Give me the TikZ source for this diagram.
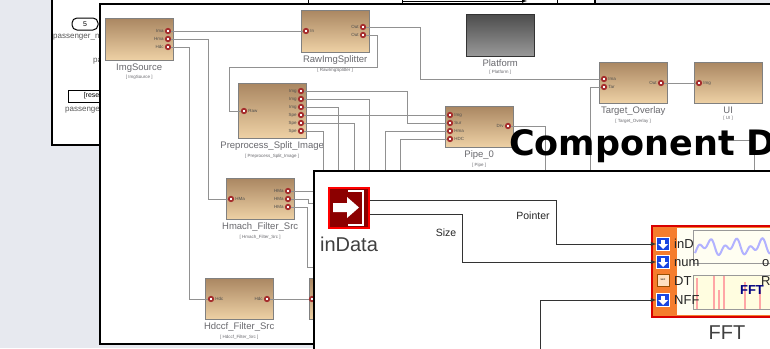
\documentclass[tikz,border=0pt]{standalone}
\usepackage{fontspec}
\setmainfont{Liberation Sans}
\newfontfamily\comicfont{DejaVu Sans}
\usetikzlibrary{positioning}
\definecolor{deskgrey}{RGB}{231, 233, 239}
\definecolor{boxtop}{RGB}{170, 135, 98}
\definecolor{boxbottom}{RGB}{238, 209, 165}
\definecolor{portred}{RGB}{165, 45, 45}
\definecolor{wiregrey}{RGB}{145, 145, 145}
\definecolor{labelgrey}{RGB}{105, 105, 110}
\definecolor{fftorange}{RGB}{245, 125, 45}
\definecolor{portblue}{RGB}{25, 70, 225}

\tikzset{
	window/.style={draw=black, fill=white, line width=1.7pt},
	compbox/.style={draw=black!50, top color=boxtop, bottom color=boxbottom, minimum width=68pt, inner sep=0pt, anchor=north west},
	darkbox/.style={draw=black!80, top color=black!70, bottom color=black!40, minimum width=68pt, inner sep=0pt, anchor=north west},
	complabel/.style={color=labelgrey, font=\fontsize{9.5}{10}\selectfont, inner sep=0pt},
	compsub/.style={color=labelgrey, font=\fontsize{4.5}{5}\selectfont, inner sep=0pt},
	portdot/.style={circle, draw=portred, fill=white, line width=1.7pt, minimum size=4.5pt, inner sep=0pt},
	portlabel/.style={color=black!70, font=\fontsize{4.5}{5}\selectfont, inner sep=1pt},
	wire/.style={draw=wiregrey, line width=1pt},
	signal/.style={draw=black!80, line width=0.9pt},
	backtext/.style={color=black!65, font=\fontsize{8}{9}\selectfont, inner sep=0pt},
	fftport/.style={draw=white, fill=portblue, minimum size=13pt, inner sep=0pt},
	fftlabel/.style={color=black!85, font=\fontsize{13}{14}\selectfont, inner sep=0pt, anchor=west},
	wirename/.style={color=black!85, font=\fontsize{10.5}{12}\selectfont, inner sep=0pt}
}

\begin{document}
\begin{tikzpicture}[x=1pt, y=-1pt]
		
		% --- HELPERS FOR BLOCKS AND PORTS ---
		\newcommand{\compblock}[7]{ % #1:name, #2:style, #3:x, #4:y, #5:height, #6:label, #7:type
			\node[#2, minimum height=#5] (#1) at (#3, #4) {};
			\node[complabel, below=3pt of #1] (#1Label) {#6};
			\node[compsub, below=3pt of #1Label] (#1Sub) {[ #7 ]};
		}
		\newcommand{\inport}[4]{ % #1:name, #2:x, #3:y, #4:label
			\node[portdot, label={[portlabel]right:#4}] (#1) at (#2, #3) {};
		}
		\newcommand{\outport}[4]{ % #1:name, #2:x, #3:y, #4:label
			\node[portdot, label={[portlabel]left:#4}] (#1) at (#2, #3) {};
		}
		
		\useasboundingbox (0,0) rectangle (770,348);
		\clip (0,0) rectangle (770,348);
		\fill[deskgrey] (0,0) rectangle (770,348);
		
		% --- BACK WINDOW ---
		\draw[window] (52,-5) rectangle (595,145);
		\node[draw=black, line width=1pt, rounded corners=5pt, minimum width=26pt, minimum height=12pt, inner sep=0pt, font=\fontsize{7}{8}\selectfont] (passengerNum) at (85,24) {5};
		\node[backtext, anchor=west] (passengerNumLabel) at (53,37) {passenger\_num};
		\node[backtext, anchor=west] (passengerMid) at (93,61) {passenger};
		\node[draw=black, line width=1pt, minimum width=50pt, minimum height=12pt, inner sep=1pt, anchor=west, font=\fontsize{7}{8}\selectfont] (resetBox) at (68,96) {[reset]};
		\node[backtext, anchor=west] (resetLabel) at (65,110) {passenger\_reset};
		\draw[line width=1pt] (308,-5) rectangle (402,3);
		\draw[line width=0.7pt, -latex] (402,1) -- (527,1);
		\draw[line width=0.7pt] (557,-5) -- (557,3) -- (595,3);
		
		% --- COMPONENT WINDOW ---
		\draw[window] (100,4) rectangle (790,344);
		
		\compblock{imgSource}{compbox}{105}{18}{42pt}{ImgSource}{ImgSource}
		\compblock{splitter}{compbox}{301}{10}{42pt}{RawImgSplitter}{RawImgSplitter}
		\compblock{platform}{darkbox}{466}{14}{42pt}{Platform}{Platform}
		\compblock{preprocess}{compbox}{238}{83}{55pt}{Preprocess\_Split\_Image}{Preprocess\_Split\_Image}
		\compblock{pipe}{compbox}{445}{106}{41pt}{Pipe\_0}{Pipe}
		\compblock{overlay}{compbox}{599}{62}{41pt}{Target\_Overlay}{Target\_Overlay}
		\compblock{ui}{compbox}{694}{62}{41pt}{UI}{UI}
		\compblock{hmach}{compbox}{226}{178}{41pt}{Hmach\_Filter\_Src}{Hmach\_Filter\_Src}
		\compblock{hdccf}{compbox}{205}{278}{41pt}{Hdccf\_Filter\_Src}{Hdccf\_Filter\_Src}
		\node[compbox, minimum height=41pt] (hiddenBox) at (309,278) {};
		
		% --- PORTS ---
		\outport{srcIma}{168}{31}{Ima}
		\outport{srcHma}{168}{39}{Hma}
		\outport{srcHdc}{168}{47}{Hdc}
		\inport{splitIn}{306}{31}{In}
		\outport{splitOutA}{363}{27}{Out}
		\outport{splitOutB}{363}{35}{Out}
		\inport{preRaw}{244}{111}{Raw}
		\outport{preA}{301}{91}{Img}
		\outport{preB}{301}{99}{Img}
		\outport{preC}{301}{107}{Img}
		\outport{preD}{301}{115}{Spe}
		\outport{preE}{301}{123}{Spe}
		\outport{preF}{301}{131}{Spe}
		\inport{pipeImg}{450}{115}{Img}
		\inport{pipeSur}{450}{123}{Sur}
		\inport{pipeHma}{450}{131}{Hma}
		\inport{pipeHdc}{450}{139}{HDC}
		\outport{pipeDrv}{508}{126}{Drv}
		\inport{overlayIma}{604}{79}{Ima}
		\inport{overlayTar}{604}{87}{Tar}
		\outport{overlayOut}{661}{83}{Out}
		\inport{uiImg}{699}{83}{Img}
		\inport{hmachIn}{231}{199}{HMa}
		\outport{hmachA}{288}{191}{HMa}
		\outport{hmachB}{288}{199}{HMa}
		\outport{hmachC}{288}{207}{HMa}
		\inport{hdccfIn}{211}{299}{Hdc}
		\outport{hdccfOut}{267}{299}{Hdc}
		\node[portdot] (hiddenIn) at (312,299) {};
		
		% --- WIRES (FREE ENDS RUN UNDER THE FRONT WINDOW) ---
		\coordinate (endB) at (369,175);
		\coordinate (endC) at (338,175);
		\coordinate (endE) at (354,175);
		\coordinate (endF) at (323,175);
		\coordinate (endHma) at (385,175);
		\coordinate (endHdc) at (400,175);
		\coordinate (endDrv) at (545,175);
		\coordinate (endTar) at (590,175);
		\coordinate (endUi) at (754,175);
		\coordinate (startUi) at (722,140);
		\coordinate (endHmachA) at (320,191);
		\coordinate (endHmachB) at (320,203);
		\coordinate (endHmachC) at (320,267);
		
		\draw[wire] (srcIma) -- (splitIn);
		\draw[wire] (srcHma) -- ++(40,0) |- (hmachIn);
		\draw[wire] (srcHdc) -- ++(21.5,0) |- (hdccfIn);
		\draw[wire] (splitOutA) -- ++(57.5,0) |- (overlayIma);
		\draw[wire] (splitOutB) -- ++(14,0) |- (229,67) |- (preRaw);
		\draw[wire] (preA) -- ++(106,0) |- (pipeSur);
		\draw[wire] (preB) -| (endB);
		\draw[wire] (preC) -| (endC);
		\draw[wire] (preD) -- (pipeImg);
		\draw[wire] (preE) -| (endE);
		\draw[wire] (preF) -| (endF);
		\draw[wire] (pipeHma) -| (endHma);
		\draw[wire] (pipeHdc) -| (endHdc);
		\draw[wire] (pipeDrv) -| (endDrv);
		\draw[wire] (overlayTar) -| (endTar);
		\draw[wire] (overlayOut) -- (uiImg);
		\draw[wire] (startUi) -| (endUi);
		\draw[wire] (hmachA) -- (endHmachA);
		\draw[wire] (hmachB) -- ++(20,0) |- (endHmachB);
		\draw[wire] (hmachC) -- ++(19,0) |- (endHmachC);
		\draw[wire] (hdccfOut) -- (hiddenIn);
		
		% --- TITLE ---
		\node[anchor=base west, inner sep=0pt, font=\comicfont\bfseries\fontsize{35}{38}\selectfont] (title) at (509,155) {Component D};
		
		% --- FRONT WINDOW ---
		\draw[window] (314,171) rectangle (790,360);
		
		\node[draw=red, fill=red!55!black, line width=1.8pt, minimum size=40pt, inner sep=0pt] (inData) at (349,208) {};
		\draw[white, line width=2pt] (348,191) -- (363,191) -- (363,225) -- (348,225);
		\fill[white] (333,203) -- (347,203) -- (347,197) -- (359,207.5) -- (347,218) -- (347,212) -- (333,212) -- cycle;
		\node[inner sep=0pt, color=black!75, font=\fontsize{20}{22}\selectfont] (inDataLabel) at (349,244) {inData};
		
		% --- FFT BLOCK ---
		\fill[fftorange, draw=red!85!black, line width=1.5pt] (652,226) rectangle (790,317);
		\fill[white!95!yellow] (677,228) rectangle (790,315);
		\fill[yellow!12] (693,275) rectangle (790,309);
		\draw[black!40, line width=0.4pt] (693,230) rectangle (790,263);
		\draw[black!40, line width=0.4pt] (693,275) rectangle (790,309);
		\foreach \barx/\bartop in {697/278, 714/276, 719/290, 724/276, 745/282, 760/290} {
			\draw[red!35, line width=1.2pt] (\barx,\bartop) -- (\barx,309);
		}
		\draw[blue!30, line width=2pt] plot[domain=695:770, samples=110] (\x,{247+9*sin(\x*20.9)*cos(\x*7.3)});
		\node[color=blue!50!black, font=\bfseries\fontsize{13}{14}\selectfont, inner sep=0pt] (fftPlot) at (752,290) {FFT};
		
		\node[fftport] (fftInD) at (663,244) {};
		\node[fftport] (fftNum) at (663,262) {};
		\node[draw=orange!60!black, fill=orange!25, minimum size=12pt, inner sep=0pt, font=\fontsize{3}{4}\selectfont] (fftDT) at (663,280) {sec};
		\node[fftport] (fftNff) at (663,300) {};
		\foreach \portname in {fftInD, fftNum, fftNff} {
			\fill[white] ([xshift=-2pt,yshift=4pt]\portname.center) rectangle ([xshift=2pt,yshift=0pt]\portname.center);
			\fill[white] ([xshift=-5pt,yshift=0pt]\portname.center) -- ([xshift=5pt,yshift=0pt]\portname.center) -- ([yshift=-5pt]\portname.center) -- cycle;
		}
		\node[fftlabel] (fftInDLabel) at (674,244) {inD};
		\node[fftlabel] (fftNumLabel) at (674,263) {num};
		\node[fftlabel] (fftDTLabel) at (674,281) {DT};
		\node[fftlabel] (fftNffLabel) at (674,300) {NFF};
		\node[fftlabel] (fftOutA) at (762,263) {o};
		\node[fftlabel] (fftOutB) at (761,281) {R};
		\node[inner sep=0pt, color=black!75, font=\fontsize{20}{22}\selectfont] (fftName) at (727,333) {FFT};
		
		% --- SIGNALS ---
		\coordinate (nffStart) at (540,352);
		\draw[signal, -latex] (inData.east |- 0,200) -- ++(187,0) |- (fftInD.west);
		\draw[signal, -latex] (inData.east |- 0,214) -- ++(93,0) |- (fftNum.west);
		\draw[signal, -latex] (nffStart) |- (fftNff.west);
		\node[wirename] (pointerName) at (533,216) {Pointer};
		\node[wirename] (sizeName) at (446,233) {Size};
		
	\end{tikzpicture}
\end{document}
